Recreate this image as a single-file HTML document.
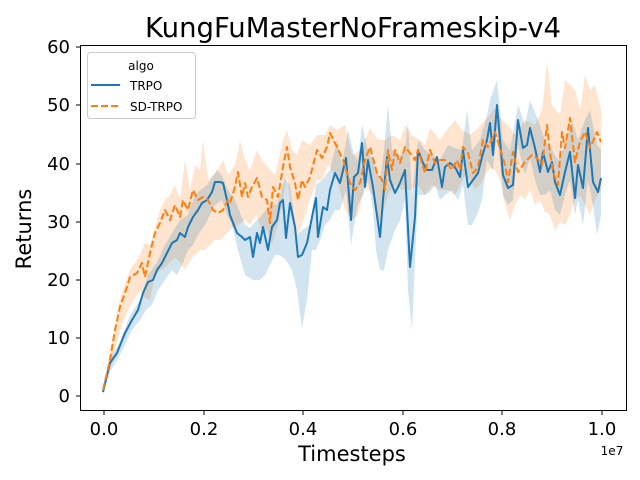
<!DOCTYPE html>
<html><head><meta charset="utf-8"><style>body{margin:0;background:#fff}svg{display:block}text{font-family:"DejaVu Sans","Liberation Sans",sans-serif;fill:#000}</style></head>
<body>
<svg width="640" height="480" xmlns="http://www.w3.org/2000/svg">
<polygon fill="#ff7f0e" fill-opacity="0.2" stroke="none" points="103,388 110,352 120,298 130,270 140,255 145,243 150,245 160,210 165,200 170,195 175,185 180,200 185,160 190,190 195,165 200,170 203,140 208,180 213,175 218,170 223,160 228,175 235,165 240,140 245,160 250,170 257,150 262,160 270,170 275,175 283,140 287,130 292,150 297,155 302,140 310,145 317,135 325,135 330,125 337,130 345,125 352,155 360,150 365,140 370,128 378,140 385,140 392,135 400,140 405,125 412,135 420,140 425,145 430,128 440,140 447,130 455,120 462,130 470,135 478,128 485,120 490,115 495,108 500,118 508,125 515,135 525,120 535,125 542,110 547,62 552,105 560,115 565,80 570,85 575,90 580,110 585,75 590,90 595,85 601,110 601,190 595,200 590,215 585,205 580,195 575,200 570,215 565,225 560,222 555,230 550,215 545,212 540,200 535,205 530,190 525,200 520,195 515,205 510,220 505,205 500,180 495,170 490,168 485,175 480,185 475,190 470,180 465,175 460,185 455,195 448,190 440,190 432,185 425,195 418,185 410,190 402,190 395,185 388,195 382,215 378,225 373,195 365,185 358,215 352,220 345,210 340,190 335,175 328,165 322,180 317,180 310,200 305,215 298,235 293,225 287,175 283,200 278,225 272,245 267,230 262,230 256,215 250,225 245,220 238,225 232,228 225,235 220,240 215,240 210,245 205,250 200,250 195,255 190,260 185,270 180,262 175,258 170,262 165,268 160,270 155,275 150,300 145,298 140,290 135,298 128,310 122,325 116,345 110,368 103,392"/>
<polygon fill="#1f77b4" fill-opacity="0.2" stroke="none" points="103,390 110,358 120,342 130,315 140,300 148,275 157,262 165,245 172,233 180,220 188,215 195,195 200,190 207,185 212,178 217,170 222,176 228,190 235,200 245,225 250,228 255,222 262,215 270,205 277,205 285,178 290,185 297,235 302,230 310,225 316,185 322,180 330,170 337,140 342,165 348,130 354,155 358,160 362,125 368,150 375,165 380,180 384,150 388,105 392,150 400,155 405,150 408,120 412,195 418,140 425,150 432,155 440,160 448,145 455,148 462,150 467,110 472,150 480,140 487,115 490,100 497,80 503,140 510,150 518,105 525,125 530,100 538,120 545,140 552,150 558,160 565,145 572,120 578,140 585,120 590,110 597,145 601,150 601,215 597,235 593,205 588,180 583,225 578,200 575,215 570,180 565,195 560,215 555,210 550,190 545,195 540,195 535,180 530,158 525,175 518,145 513,200 508,205 503,195 497,130 493,170 487,160 482,200 477,215 472,225 468,225 463,185 458,200 452,190 445,195 440,200 435,185 430,192 425,195 418,195 415,260 412,330 408,290 405,200 400,220 395,230 388,250 384,270 380,270 376,250 373,210 368,180 363,195 358,205 354,225 351,245 346,190 340,210 335,210 330,220 325,225 320,240 316,250 312,250 307,300 302,328 297,290 292,270 286,260 280,255 275,255 270,265 265,275 260,280 253,280 245,275 238,250 232,225 227,215 222,200 215,205 210,215 205,225 198,235 193,245 188,250 182,265 177,275 172,270 165,280 158,290 152,305 146,310 140,320 132,330 125,345 117,360 110,372 103,394"/>
<polyline fill="none" stroke="#1f77b4" stroke-width="2" stroke-linejoin="round" points="103,392 110,363 117,353 125,333 132,320 138,310 143,293 148,282 153,280 157,270 162,263 167,253 172,243 177,240 180,233 185,237 188,227 193,217 198,210 202,203 207,200 212,192 215,182 220,182 223,183 227,200 230,215 237,233 242,237 245,240 250,237 253,257 257,233 260,243 263,227 268,250 272,227 277,220 280,203 283,200 286,238 290,203 295,227 298,257 302,255 307,243 312,217 316,198 318,237 323,207 327,210 330,190 335,173 340,183 346,158 351,220 354,177 358,173 362,143 365,187 368,160 373,187 380,237 383,200 387,157 390,180 395,193 400,183 405,170 410,267 415,217 418,150 423,163 427,170 432,170 437,157 442,187 445,167 450,163 455,167 460,177 463,150 468,187 473,180 478,173 482,157 487,140 490,123 493,155 497,105 503,175 508,188 513,185 518,120 523,148 527,145 530,128 535,148 540,172 543,152 548,172 552,162 555,182 560,195 565,172 570,152 575,198 578,165 583,188 588,128 593,182 598,192 601,178"/>
<polyline fill="none" stroke="#ff7f0e" stroke-width="2" stroke-dasharray="7,3" stroke-linejoin="round" points="103,390 110,360 115,330 120,307 127,287 130,277 137,273 142,263 145,277 150,253 155,233 160,223 165,210 170,220 175,205 180,217 183,200 188,210 193,190 198,200 203,197 208,200 213,210 218,213 223,210 228,200 230,203 235,187 238,172 242,197 245,183 248,197 252,187 257,178 262,197 267,200 270,223 273,187 278,197 283,167 287,147 290,167 295,183 298,200 302,180 305,187 310,177 317,150 322,158 327,147 330,133 337,147 343,160 350,183 355,190 360,183 365,160 370,147 377,173 382,180 385,190 388,150 392,170 395,150 400,163 405,147 410,153 415,160 418,150 425,173 430,150 435,163 440,160 445,160 452,170 457,160 460,170 463,147 468,153 473,173 478,167 483,140 488,147 493,137 495,132 500,148 505,165 508,182 513,152 518,172 525,162 532,155 537,158 542,165 547,125 550,152 553,172 558,185 562,132 565,148 570,118 575,162 580,142 585,132 590,148 597,132 601,142"/>
<rect x="80.5" y="45.5" width="546" height="365" fill="none" stroke="#000" stroke-width="1"/>
<g font-size="18" text-anchor="end">
<text x="70" y="402">0</text><text x="70" y="344">10</text><text x="70" y="286">20</text><text x="70" y="228">30</text><text x="70" y="170">40</text><text x="70" y="111">50</text><text x="70" y="53">60</text>
</g>
<g stroke="#000"><line x1="76" x2="80" y1="396" y2="396"/><line x1="76" x2="80" y1="338" y2="338"/><line x1="76" x2="80" y1="280" y2="280"/><line x1="76" x2="80" y1="222" y2="222"/><line x1="76" x2="80" y1="164" y2="164"/><line x1="76" x2="80" y1="105" y2="105"/><line x1="76" x2="80" y1="47" y2="47"/>
<line x1="104" x2="104" y1="411" y2="415"/><line x1="204" x2="204" y1="411" y2="415"/><line x1="303" x2="303" y1="411" y2="415"/><line x1="403" x2="403" y1="411" y2="415"/><line x1="502" x2="502" y1="411" y2="415"/><line x1="602" x2="602" y1="411" y2="415"/></g>
<g font-size="18" text-anchor="middle">
<text x="104" y="435">0.0</text><text x="204" y="435">0.2</text><text x="303" y="435">0.4</text><text x="403" y="435">0.6</text><text x="502" y="435">0.8</text><text x="602" y="435">1.0</text>
<text x="352" y="461" font-size="21">Timesteps</text>
<text x="353" y="37" font-size="27.5">KungFuMasterNoFrameskip-v4</text>
</g>
<text x="612" y="455" font-size="12" text-anchor="middle">1e7</text>
<text x="31" y="229" font-size="21" text-anchor="middle" transform="rotate(-90 31 229)">Returns</text>
<rect x="87.5" y="52.5" width="108" height="66" rx="3" fill="#fff" fill-opacity="0.8" stroke="#ccc"/>
<text x="141" y="70" font-size="12" text-anchor="middle">algo</text>
<line x1="91" x2="120" y1="85" y2="85" stroke="#1f77b4" stroke-width="2"/>
<text x="130" y="90" font-size="12">TRPO</text>
<line x1="91" x2="120" y1="106" y2="106" stroke="#ff7f0e" stroke-width="2" stroke-dasharray="7,3"/>
<text x="130" y="111" font-size="12">SD-TRPO</text>
</svg>
</body></html>
